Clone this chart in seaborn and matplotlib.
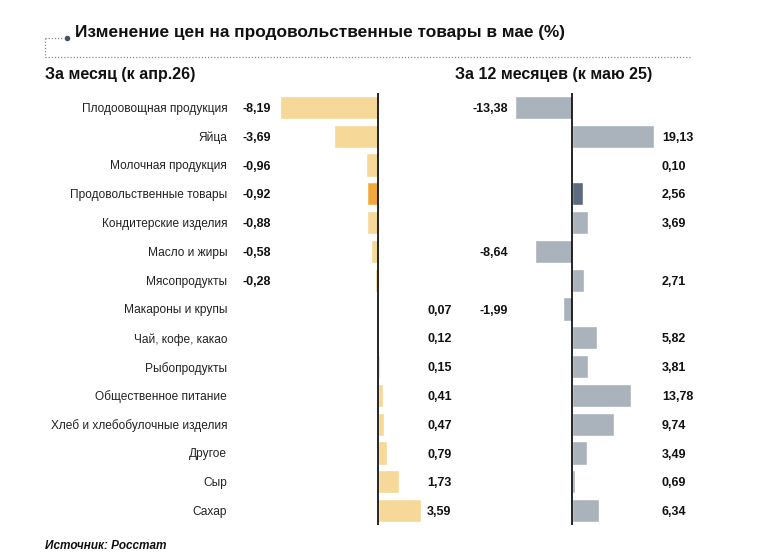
import numpy as np
import pandas as pd
import matplotlib
matplotlib.use('Agg')
import matplotlib.pyplot as plt
import seaborn as sns
from matplotlib.lines import Line2D

# ----------- Data -----------
categories = ['Плодоовощная продукция', 'Яйца', 'Молочная продукция',
              'Продовольственные товары', 'Кондитерские изделия', 'Масло и жиры',
              'Мясопродукты', 'Макароны и крупы', 'Чай, кофе, какао', 'Рыбопродукты',
              'Общественное питание', 'Хлеб и хлебобулочные изделия', 'Другое',
              'Сыр', 'Сахар']
month_change = [-8.19, -3.69, -0.96, -0.92, -0.88, -0.58, -0.28, 0.07, 0.12, 0.15,
                0.41, 0.47, 0.79, 1.73, 3.59]
year_change = [-13.38, 19.13, 0.10, 2.56, 3.69, -8.64, 2.71, -1.99, 5.82, 3.81,
               13.78, 9.74, 3.49, 0.69, 6.34]
highlight = 'Продовольственные товары'

title = 'Изменение цен на продовольственные товары в мае (%)'
sub_month = 'За месяц (к апр.26)'
sub_year = 'За 12 месяцев (к маю 25)'
source = 'Источник: Росстат'

df = pd.DataFrame({'cat': categories, 'month': month_change, 'year': year_change})

sns.set_theme(style='white')
plt.rcParams['font.family'] = ['Liberation Sans', 'DejaVu Sans']

W, H = 768, 556
fig = plt.figure(figsize=(W / 100, H / 100), dpi=100)


def px_axes(x0, x1, y0, y1):
    # pixel box (top-left origin) -> figure axes
    return fig.add_axes([x0 / W, 1 - y1 / H, (x1 - x0) / W, (y1 - y0) / H])


def panel(ax, col, base, hi, zero_px, x0, x1, scale, neg_px, pos_px, show_labels):
    pal = {c: (hi if c == highlight else base) for c in categories}
    sns.barplot(data=df, x=col, y='cat', hue='cat', palette=pal, legend=False,
                width=0.8, saturation=1, ax=ax)
    ax.set_xlim(-(zero_px - x0) / scale, (x1 - zero_px) / scale)
    ax.set_ylim(len(categories) - 0.5, -0.5)
    ax.axvline(0, color='black', lw=1.2)
    for s in ax.spines.values():
        s.set_visible(False)
    ax.set_xticks([])
    ax.set_xlabel('')
    ax.set_ylabel('')
    if show_labels:
        ax.tick_params(axis='y', length=0, pad=2, labelsize=8.6, labelcolor='#222222')
    else:
        ax.set_yticks([])
    for i, v in enumerate(df[col]):
        txt = f'{v:.2f}'.replace('.', ',')
        if v < 0:
            ax.text((neg_px - zero_px) / scale, i, txt, ha='right', va='center_baseline',
                    fontsize=9, fontweight='bold', color='#111111')
        else:
            ax.text((pos_px - zero_px) / scale, i, txt, ha='left', va='center_baseline',
                    fontsize=9, fontweight='bold', color='#111111')


ax1 = px_axes(230, 470, 93, 525)
panel(ax1, 'month', '#F6D898', '#F2A93B', 378, 230, 470, 12.0, 271, 427, True)

ax2 = px_axes(480, 760, 93, 525)
panel(ax2, 'year', '#AAB3BC', '#5B6B80', 572, 480, 760, 4.28, 508, 662, False)

# ----------- Titles -----------
fig.text(75 / W, 1 - 32 / H, title, fontsize=12.4, fontweight='bold',
         va='center', ha='left', color='#111111')
fig.text(45 / W, 1 - 75 / H, sub_month, fontsize=11.5, fontweight='bold',
         va='center', ha='left', color='#111111')
fig.text(455 / W, 1 - 75 / H, sub_year, fontsize=11.5, fontweight='bold',
         va='center', ha='left', color='#111111')
fig.text(45 / W, 1 - 546 / H, source, fontsize=8.5, fontweight='bold',
         style='italic', va='center', ha='left', color='#111111')

# dotted bracket
dot = dict(color='#8A8A8A', lw=0.9, ls=(0, (1, 1.5)), transform=fig.transFigure)
fig.add_artist(Line2D([45 / W, 63 / W], [1 - 38 / H, 1 - 38 / H], **dot))
fig.add_artist(Line2D([45 / W, 45 / W], [1 - 38 / H, 1 - 57 / H], **dot))
fig.add_artist(Line2D([45 / W, 690 / W], [1 - 57 / H, 1 - 57 / H], **dot))
fig.add_artist(Line2D([67 / W], [1 - 38 / H], marker='o', ms=3, color='#44546A',
                      lw=0, transform=fig.transFigure))

plt.savefig('out.png', dpi=100)
